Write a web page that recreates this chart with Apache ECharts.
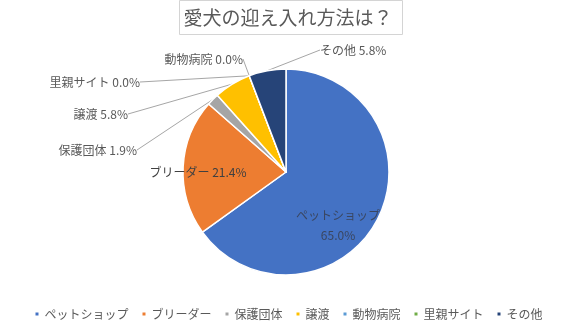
<!DOCTYPE html>
<html>
<head>
<meta charset="utf-8">
<script src="https://cdn.jsdelivr.net/npm/echarts@6/dist/echarts.min.js"></script>
<style>
  html, body { margin: 0; padding: 0; background: #fff; }
  #chart { width: 576px; height: 325px; }
</style>
</head>
<body>
<div id="chart"></div>
<script>
// 迎え入れ方法ごとの割合（%）
const categories = ['ペットショップ', 'ブリーダー', '保護団体', '譲渡', '動物病院', '里親サイト', 'その他'];
const shares = [65.0, 21.4, 1.9, 5.8, 0.0, 0.0, 5.8];
const chartTitle = '愛犬の迎え入れ方法は？';

// Office 系の配色
const palette = ['#4472C4', '#ED7D31', '#A5A5A5', '#FFC000', '#5B9BD5', '#70AD47', '#264478'];

const FONT = '"Noto Sans CJK JP", "Noto Sans", sans-serif';

// ラベルの置き場所（外側の吹き出しと内側のラベル）
const labelPlacement = {
  'ペットショップ': { x: 338, y: 225, align: 'center' },
  'ブリーダー': { x: 198, y: 172, align: 'center' },
  '保護団体': { x: 137, y: 150, align: 'right' },
  '譲渡': { x: 128, y: 114, align: 'right' },
  '動物病院': { x: 243, y: 59, align: 'right' },
  '里親サイト': { x: 140, y: 82, align: 'right' },
  'その他': { x: 320, y: 50, align: 'left' }
};

const pieData = categories.map((name, i) => {
  const item = { name: name, value: shares[i], itemStyle: { color: palette[i] } };
  if (name === 'ペットショップ') {
    item.label = {
      position: 'inside',
      formatter: p => p.name + '\n' + p.value.toFixed(1) + '%',
      color: '#3a4660',
      lineHeight: 20
    };
  } else if (name === 'ブリーダー') {
    item.label = {
      position: 'inside',
      formatter: p => p.name + ' ' + p.value.toFixed(1) + '%',
      color: '#404040'
    };
  }
  return item;
});

const chart = echarts.init(document.getElementById('chart'), null, { renderer: 'canvas' });

chart.setOption({
  backgroundColor: '#ffffff',
  animation: false,
  title: {
    text: chartTitle,
    left: 'center',
    top: 0,
    borderColor: '#d4d4d4',
    borderWidth: 1,
    padding: [8, 10, 8, 4],
    textStyle: {
      fontFamily: FONT,
      fontSize: 19,
      fontWeight: 'normal',
      color: '#595959'
    }
  },
  legend: {
    bottom: 0,
    left: 'center',
    icon: 'rect',
    itemWidth: 5,
    itemHeight: 5,
    itemGap: 12,
    textStyle: { fontFamily: FONT, fontSize: 12, color: '#595959' },
    data: categories
  },
  series: [{
    type: 'pie',
    center: [286, 172],
    radius: 103,
    startAngle: 90,
    clockwise: true,
    avoidLabelOverlap: false,
    itemStyle: { borderColor: '#ffffff', borderWidth: 1.5 },
    label: {
      show: true,
      position: 'outside',
      fontFamily: FONT,
      fontSize: 12,
      color: '#595959',
      formatter: p => p.name + ' ' + p.value.toFixed(1) + '%'
    },
    labelLine: {
      show: true,
      length: 10,
      length2: 0,
      lineStyle: { color: '#a6a6a6', width: 1 }
    },
    labelLayout: function (params) {
      const place = labelPlacement[categories[params.dataIndex]];
      return {
        x: place.x,
        y: place.y,
        align: place.align,
        verticalAlign: 'middle'
      };
    },
    data: pieData
  }]
});
</script>
</body>
</html>
